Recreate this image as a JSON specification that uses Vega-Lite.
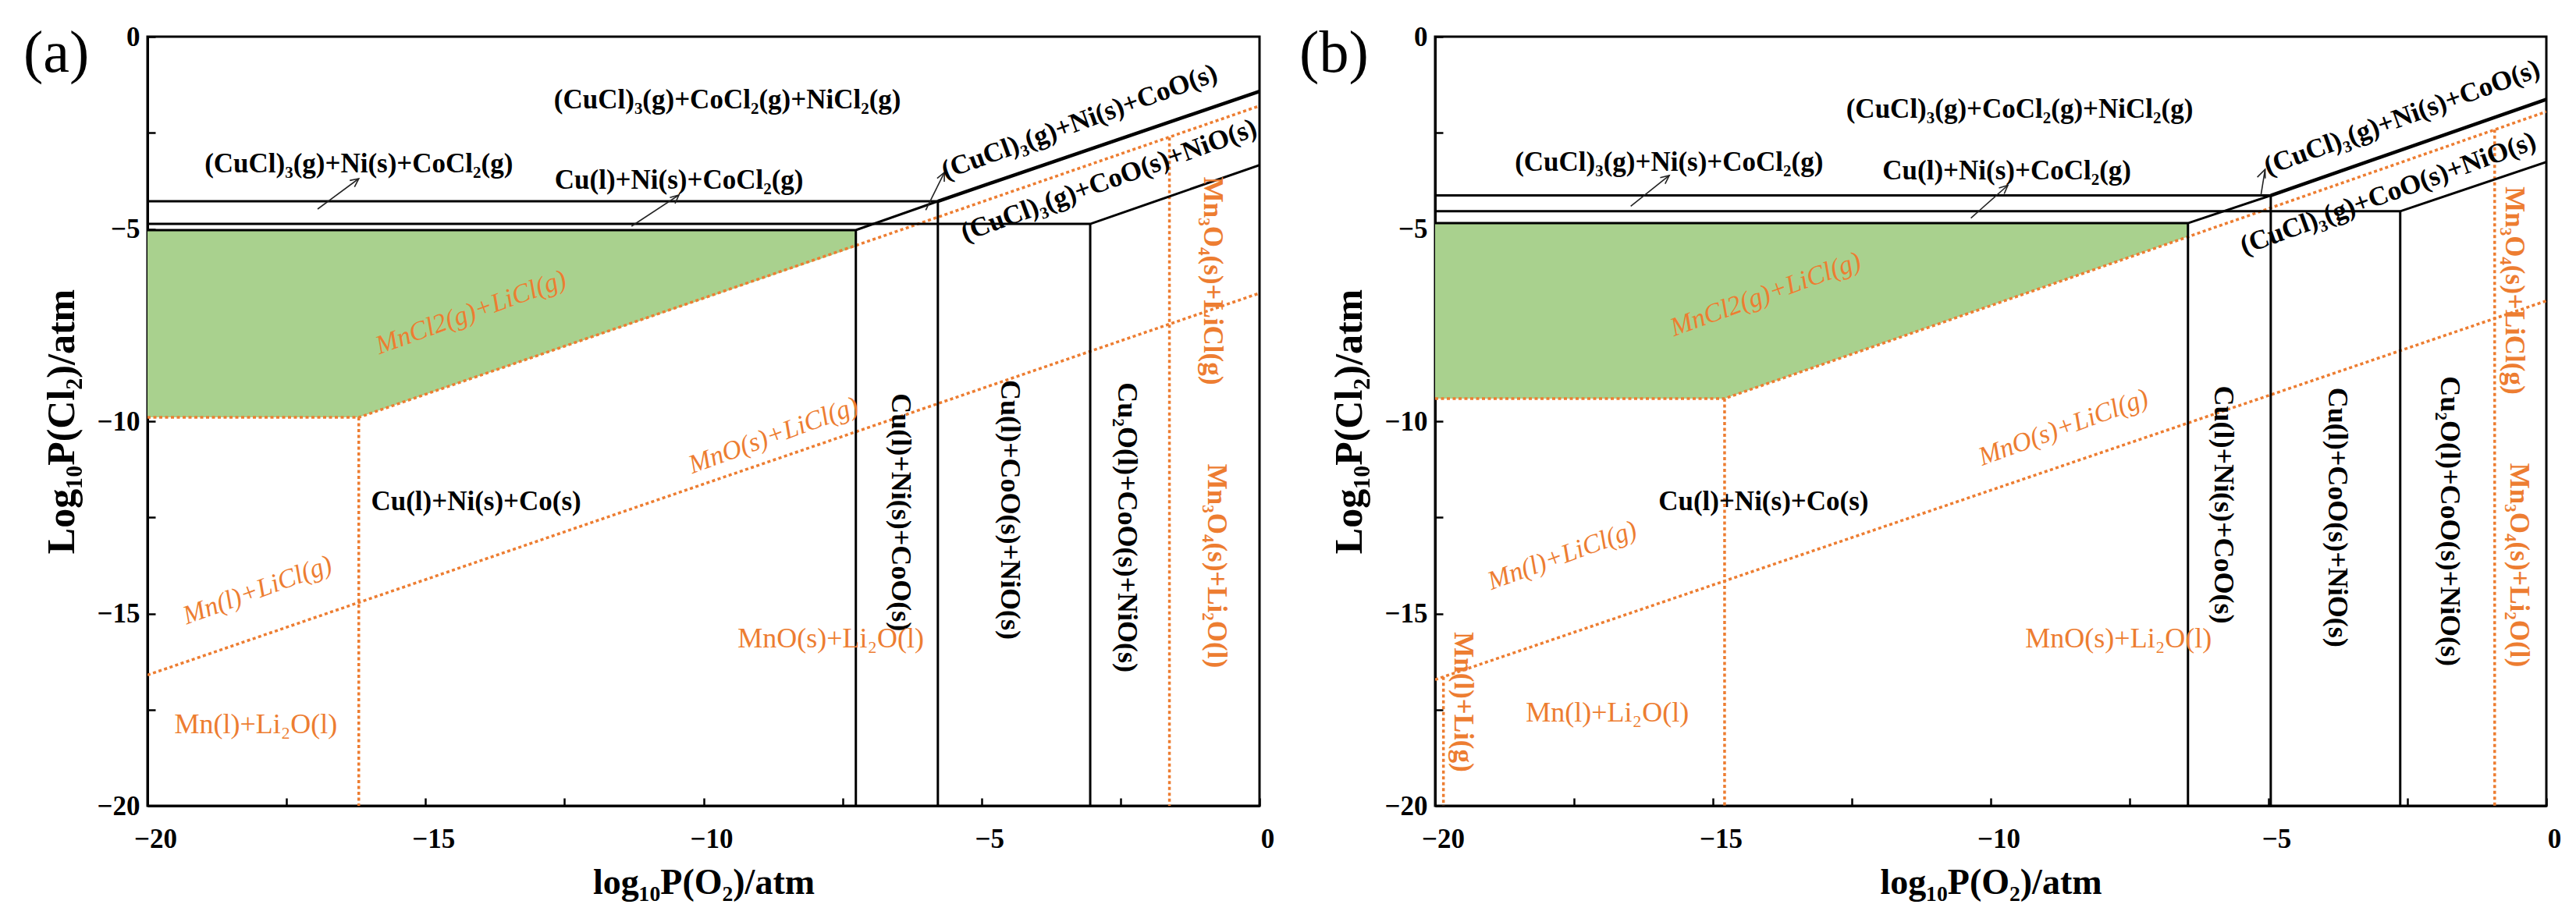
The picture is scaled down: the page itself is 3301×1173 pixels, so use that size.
{
  "$schema": "https://vega.github.io/schema/vega-lite/v6.json",
  "background": "white",
  "padding": {"left": 28, "top": 28, "right": 30, "bottom": 10},
  "spacing": 28,
  "config": {
    "view": {"stroke": "black", "strokeWidth": 3},
    "font": "Liberation Serif",
    "axis": {
      "grid": false, "domainColor": "black", "domainWidth": 3,
      "tickColor": "black", "tickWidth": 2.5, "tickSize": -10,
      "labelFont": "Liberation Serif", "labelFontSize": 35, "labelFontWeight": "bold", "labelColor": "black",
      "titleFont": "Liberation Serif", "titleFontSize": 46, "titleFontWeight": "bold", "titleColor": "black",
      "labelOverlap": false, "labelFlush": false
    }
  },
  "datasets": {
    "blk": [
      {"panel": "a", "id": "a1", "i": 0, "x": -20, "y": -4.28}, {"panel": "a", "id": "a1", "i": 1, "x": -5.785, "y": -4.28},
      {"panel": "a", "id": "a2", "i": 0, "x": -20, "y": -4.87}, {"panel": "a", "id": "a2", "i": 1, "x": -3.045, "y": -4.87}, {"panel": "a", "id": "a2", "i": 2, "x": 0, "y": -3.34},
      {"panel": "a", "id": "a3", "i": 0, "x": -20, "y": -5.03}, {"panel": "a", "id": "a3", "i": 1, "x": -7.26, "y": -5.03}, {"panel": "a", "id": "a3", "i": 2, "x": -5.785, "y": -4.28},
      {"panel": "a", "id": "a4", "i": 0, "x": -7.26, "y": -5.03}, {"panel": "a", "id": "a4", "i": 1, "x": -7.26, "y": -20},
      {"panel": "a", "id": "a5", "i": 0, "x": -5.785, "y": -4.28}, {"panel": "a", "id": "a5", "i": 1, "x": -5.785, "y": -20},
      {"panel": "a", "id": "a6", "i": 0, "x": -3.045, "y": -4.87}, {"panel": "a", "id": "a6", "i": 1, "x": -3.045, "y": -20},
      {"panel": "b", "id": "b1", "i": 0, "x": -20, "y": -4.13}, {"panel": "b", "id": "b1", "i": 1, "x": -4.96, "y": -4.13},
      {"panel": "b", "id": "b2", "i": 0, "x": -20, "y": -4.54}, {"panel": "b", "id": "b2", "i": 1, "x": -2.63, "y": -4.54}, {"panel": "b", "id": "b2", "i": 2, "x": 0, "y": -3.26},
      {"panel": "b", "id": "b3", "i": 0, "x": -20, "y": -4.85}, {"panel": "b", "id": "b3", "i": 1, "x": -6.45, "y": -4.85}, {"panel": "b", "id": "b3", "i": 2, "x": -4.96, "y": -4.13},
      {"panel": "b", "id": "b4", "i": 0, "x": -6.45, "y": -4.85}, {"panel": "b", "id": "b4", "i": 1, "x": -6.45, "y": -20},
      {"panel": "b", "id": "b5", "i": 0, "x": -4.96, "y": -4.13}, {"panel": "b", "id": "b5", "i": 1, "x": -4.96, "y": -20},
      {"panel": "b", "id": "b6", "i": 0, "x": -2.63, "y": -4.54}, {"panel": "b", "id": "b6", "i": 1, "x": -2.63, "y": -20}
    ],
    "thick": [
      {"panel": "a", "id": "t1", "i": 0, "x": -5.785, "y": -4.28}, {"panel": "a", "id": "t1", "i": 1, "x": 0, "y": -1.42},
      {"panel": "b", "id": "t1", "i": 0, "x": -4.96, "y": -4.13}, {"panel": "b", "id": "t1", "i": 1, "x": 0, "y": -1.63}
    ],
    "org": [
      {"panel": "a", "id": "o1", "i": 0, "x": -20, "y": -9.9}, {"panel": "a", "id": "o1", "i": 1, "x": -16.2, "y": -9.9}, {"panel": "a", "id": "o1", "i": 2, "x": 0, "y": -1.8},
      {"panel": "a", "id": "o2", "i": 0, "x": -16.2, "y": -9.9}, {"panel": "a", "id": "o2", "i": 1, "x": -16.2, "y": -20},
      {"panel": "a", "id": "o3", "i": 0, "x": -20, "y": -16.6}, {"panel": "a", "id": "o3", "i": 1, "x": 0, "y": -6.67},
      {"panel": "a", "id": "o4", "i": 0, "x": -1.62, "y": -2.62}, {"panel": "a", "id": "o4", "i": 1, "x": -1.62, "y": -20},
      {"panel": "b", "id": "o1", "i": 0, "x": -20, "y": -9.41}, {"panel": "b", "id": "o1", "i": 1, "x": -14.79, "y": -9.41}, {"panel": "b", "id": "o1", "i": 2, "x": 0, "y": -1.95},
      {"panel": "b", "id": "o2", "i": 0, "x": -14.79, "y": -9.41}, {"panel": "b", "id": "o2", "i": 1, "x": -14.79, "y": -20},
      {"panel": "b", "id": "o3", "i": 0, "x": -20, "y": -16.72}, {"panel": "b", "id": "o3", "i": 1, "x": 0, "y": -6.87},
      {"panel": "b", "id": "o4", "i": 0, "x": -19.85, "y": -16.65}, {"panel": "b", "id": "o4", "i": 1, "x": -19.85, "y": -20},
      {"panel": "b", "id": "o5", "i": 0, "x": -0.93, "y": -2.42}, {"panel": "b", "id": "o5", "i": 1, "x": -0.93, "y": -20}
    ],
    "green": [
      {"panel": "a", "x": -20, "y": -9.9, "yt": -5.03}, {"panel": "a", "x": -16.2, "y": -9.9, "yt": -5.03}, {"panel": "a", "x": -7.26, "y": -5.46, "yt": -5.03},
      {"panel": "b", "x": -20, "y": -9.41, "yt": -4.87}, {"panel": "b", "x": -14.79, "y": -9.41, "yt": -4.87}, {"panel": "b", "x": -6.45, "y": -5.2, "yt": -4.87}
    ],
    "arrows": [
      {"panel": "a", "id": "s1", "i": 0, "x": -16.94, "y": -4.483}, {"panel": "a", "id": "s1", "i": 1, "x": -16.2, "y": -3.692},
      {"panel": "a", "id": "h1", "i": 0, "x": -16.362, "y": -3.74}, {"panel": "a", "id": "h1", "i": 1, "x": -16.2, "y": -3.692}, {"panel": "a", "id": "h1", "i": 2, "x": -16.277, "y": -3.905},
      {"panel": "a", "id": "s2", "i": 0, "x": -11.295, "y": -4.929}, {"panel": "a", "id": "s2", "i": 1, "x": -10.442, "y": -4.118},
      {"panel": "a", "id": "h2", "i": 0, "x": -10.605, "y": -4.183}, {"panel": "a", "id": "h2", "i": 1, "x": -10.442, "y": -4.118}, {"panel": "a", "id": "h2", "i": 2, "x": -10.512, "y": -4.339},
      {"panel": "a", "id": "s3", "i": 0, "x": -6.003, "y": -4.509}, {"panel": "a", "id": "s3", "i": 1, "x": -5.666, "y": -3.529},
      {"panel": "a", "id": "h3", "i": 0, "x": -5.798, "y": -3.682}, {"panel": "a", "id": "h3", "i": 1, "x": -5.666, "y": -3.529}, {"panel": "a", "id": "h3", "i": 2, "x": -5.67, "y": -3.773},
      {"panel": "b", "id": "s1", "i": 0, "x": -16.479, "y": -4.408}, {"panel": "b", "id": "s1", "i": 1, "x": -15.785, "y": -3.609},
      {"panel": "b", "id": "h1", "i": 0, "x": -15.949, "y": -3.665}, {"panel": "b", "id": "h1", "i": 1, "x": -15.785, "y": -3.609}, {"panel": "b", "id": "h1", "i": 2, "x": -15.86, "y": -3.828},
      {"panel": "b", "id": "s2", "i": 0, "x": -10.357, "y": -4.718}, {"panel": "b", "id": "s2", "i": 1, "x": -9.691, "y": -3.864},
      {"panel": "b", "id": "h2", "i": 0, "x": -9.853, "y": -3.933}, {"panel": "b", "id": "h2", "i": 1, "x": -9.691, "y": -3.864}, {"panel": "b", "id": "h2", "i": 2, "x": -9.758, "y": -4.087},
      {"panel": "b", "id": "s3", "i": 0, "x": -5.136, "y": -4.114}, {"panel": "b", "id": "s3", "i": 1, "x": -5.062, "y": -3.452},
      {"panel": "b", "id": "h3", "i": 0, "x": -5.202, "y": -3.653}, {"panel": "b", "id": "h3", "i": 1, "x": -5.062, "y": -3.452}, {"panel": "b", "id": "h3", "i": 2, "x": -5.06, "y": -3.688}
    ],
    "tags": [
      {"panel": "a", "text": "(a)", "x": -21.64, "y": -0.45},
      {"panel": "b", "text": "(b)", "x": -21.82, "y": -0.45}
    ],
    "labels": [
      {"panel": "a", "kind": "blk", "text": "(CuCl)₃(g)+CoCl₂(g)+NiCl₂(g)", "x": -9.57, "y": -1.64},
      {"panel": "a", "kind": "blk", "text": "(CuCl)₃(g)+Ni(s)+CoCl₂(g)", "x": -16.2, "y": -3.3},
      {"panel": "a", "kind": "blk", "text": "Cu(l)+Ni(s)+CoCl₂(g)", "x": -10.44, "y": -3.73},
      {"panel": "a", "kind": "blk", "text": "Cu(l)+Ni(s)+Co(s)", "x": -14.09, "y": -12.09},
      {"panel": "a", "kind": "blkrot", "text": "(CuCl)₃(g)+Ni(s)+CoO(s)", "x": -3.24, "y": -2.21},
      {"panel": "a", "kind": "blkrot", "text": "(CuCl)₃(g)+CoO(s)+NiO(s)", "x": -2.71, "y": -3.73},
      {"panel": "a", "kind": "blkvert", "text": "Cu(l)+Ni(s)+CoO(s)", "x": -6.46, "y": -12.37},
      {"panel": "a", "kind": "blkvert", "text": "Cu(l)+CoO(s)+NiO(s)", "x": -4.49, "y": -12.3},
      {"panel": "a", "kind": "blkvert", "text": "Cu₂O(l)+CoO(s)+NiO(s)", "x": -2.39, "y": -12.76},
      {"panel": "a", "kind": "orit", "text": "MnCl2(g)+LiCl(g)", "x": -14.18, "y": -7.18},
      {"panel": "a", "kind": "orit", "text": "MnO(s)+LiCl(g)", "x": -8.74, "y": -10.38},
      {"panel": "a", "kind": "orit", "text": "Mn(l)+LiCl(g)", "x": -18.02, "y": -14.4},
      {"panel": "a", "kind": "orup", "text": "MnO(s)+Li₂O(l)", "x": -7.71, "y": -15.66},
      {"panel": "a", "kind": "orup", "text": "Mn(l)+Li₂O(l)", "x": -18.05, "y": -17.9},
      {"panel": "a", "kind": "orvert", "text": "Mn₃O₄(s)+LiCl(g)", "x": -0.84, "y": -6.35},
      {"panel": "a", "kind": "orvert", "text": "Mn₃O₄(s)+Li₂O(l)", "x": -0.77, "y": -13.76},
      {"panel": "b", "kind": "blk", "text": "(CuCl)₃(g)+CoCl₂(g)+NiCl₂(g)", "x": -9.48, "y": -1.88},
      {"panel": "b", "kind": "blk", "text": "(CuCl)₃(g)+Ni(s)+CoCl₂(g)", "x": -15.79, "y": -3.26},
      {"panel": "b", "kind": "blk", "text": "Cu(l)+Ni(s)+CoCl₂(g)", "x": -9.71, "y": -3.49},
      {"panel": "b", "kind": "blk", "text": "Cu(l)+Ni(s)+Co(s)", "x": -14.09, "y": -12.09},
      {"panel": "b", "kind": "blkrot", "text": "(CuCl)₃(g)+Ni(s)+CoO(s)", "x": -2.6, "y": -2.1},
      {"panel": "b", "kind": "blkrot", "text": "(CuCl)₃(g)+CoO(s)+NiO(s)", "x": -2.85, "y": -4.07},
      {"panel": "b", "kind": "blkvert", "text": "Cu(l)+Ni(s)+CoO(s)", "x": -5.81, "y": -12.17},
      {"panel": "b", "kind": "blkvert", "text": "Cu(l)+CoO(s)+NiO(s)", "x": -3.77, "y": -12.5},
      {"panel": "b", "kind": "blkvert", "text": "Cu₂O(l)+CoO(s)+NiO(s)", "x": -1.74, "y": -12.6},
      {"panel": "b", "kind": "orit", "text": "MnCl2(g)+LiCl(g)", "x": -14.05, "y": -6.71},
      {"panel": "b", "kind": "orit", "text": "MnO(s)+LiCl(g)", "x": -8.69, "y": -10.17},
      {"panel": "b", "kind": "orit", "text": "Mn(l)+LiCl(g)", "x": -17.71, "y": -13.5},
      {"panel": "b", "kind": "orup", "text": "MnO(s)+Li₂O(l)", "x": -7.7, "y": -15.66},
      {"panel": "b", "kind": "orup", "text": "Mn(l)+Li₂O(l)", "x": -16.9, "y": -17.59},
      {"panel": "b", "kind": "orvert", "text": "Mn₃O₄(s)+LiCl(g)", "x": -0.57, "y": -6.6},
      {"panel": "b", "kind": "orvert", "text": "Mn₃O₄(s)+Li₂O(l)", "x": -0.49, "y": -13.74},
      {"panel": "b", "kind": "orvert", "text": "Mn(l)+Li(g)", "x": -19.5, "y": -17.3}
    ]
  },
  "hconcat": [
    {
      "width": 1425, "height": 986,
      "encoding": {
        "x": {"field": "x", "type": "quantitative", "scale": {"domain": [-20, 0], "nice": false, "zero": false},
              "axis": {"title": "log₁₀P(O₂)/atm", "values": [-20, -17.5, -15, -12.5, -10, -7.5, -5, -2.5, 0], "labelExpr": "datum.value % 5 == 0 ? datum.label : ''", "labelPadding": 35, "labelOffset": 10, "titlePadding": 16}},
        "y": {"field": "y", "type": "quantitative", "scale": {"domain": [-20, 0], "nice": false, "zero": false},
              "axis": {"title": "Log₁₀P(Cl₂)/atm", "titleFontSize": 50, "values": [-20, -17.5, -15, -12.5, -10, -7.5, -5, -2.5, 0], "labelExpr": "datum.value % 5 == 0 ? datum.label : ''", "labelPadding": 20, "titlePadding": 20}}
      },
      "layer": [
        {"data": {"name": "green"}, "transform": [{"filter": "datum.panel == 'a'"}], "mark": {"type": "area", "color": "#A9D18E", "opacity": 1}, "encoding": {"y2": {"field": "yt"}}},
        {"data": {"name": "org"}, "transform": [{"filter": "datum.panel == 'a'"}], "mark": {"type": "line", "color": "#ED7D31", "strokeWidth": 3.5, "strokeDash": [4, 3.5], "clip": true}, "encoding": {"detail": {"field": "id"}, "order": {"field": "i"}}},
        {"data": {"name": "blk"}, "transform": [{"filter": "datum.panel == 'a'"}], "mark": {"type": "line", "color": "black", "strokeWidth": 3, "clip": true}, "encoding": {"detail": {"field": "id"}, "order": {"field": "i"}}},
        {"data": {"name": "thick"}, "transform": [{"filter": "datum.panel == 'a'"}], "mark": {"type": "line", "color": "black", "strokeWidth": 4.5, "clip": true}, "encoding": {"detail": {"field": "id"}, "order": {"field": "i"}}},
        {"data": {"name": "arrows"}, "transform": [{"filter": "datum.panel == 'a'"}], "mark": {"type": "line", "color": "#222", "strokeWidth": 1.6}, "encoding": {"detail": {"field": "id"}, "order": {"field": "i"}}},
        {"data": {"name": "tags"}, "transform": [{"filter": "datum.panel == 'a'"}], "mark": {"type": "text", "font": "Liberation Serif", "fontSize": 76, "color": "black", "baseline": "middle", "clip": false}, "encoding": {"text": {"field": "text"}}},
        {"data": {"name": "labels"}, "transform": [{"filter": "datum.panel == 'a' && datum.kind == 'blk'"}], "mark": {"type": "text", "font": "Liberation Serif", "fontSize": 35, "fontWeight": "bold", "color": "black", "baseline": "middle"}, "encoding": {"text": {"field": "text"}}},
        {"data": {"name": "labels"}, "transform": [{"filter": "datum.panel == 'a' && datum.kind == 'blkrot'"}], "mark": {"type": "text", "font": "Liberation Serif", "fontSize": 35, "fontWeight": "bold", "color": "black", "baseline": "middle", "angle": 340}, "encoding": {"text": {"field": "text"}}},
        {"data": {"name": "labels"}, "transform": [{"filter": "datum.panel == 'a' && datum.kind == 'blkvert'"}], "mark": {"type": "text", "font": "Liberation Serif", "fontSize": 36, "fontWeight": "bold", "color": "black", "baseline": "middle", "angle": 90}, "encoding": {"text": {"field": "text"}}},
        {"data": {"name": "labels"}, "transform": [{"filter": "datum.panel == 'a' && datum.kind == 'orit'"}], "mark": {"type": "text", "font": "Liberation Serif", "fontSize": 34, "fontStyle": "italic", "color": "#ED7D31", "baseline": "middle", "angle": 340}, "encoding": {"text": {"field": "text"}}},
        {"data": {"name": "labels"}, "transform": [{"filter": "datum.panel == 'a' && datum.kind == 'orup'"}], "mark": {"type": "text", "font": "Liberation Serif", "fontSize": 36, "color": "#ED7D31", "baseline": "middle"}, "encoding": {"text": {"field": "text"}}},
        {"data": {"name": "labels"}, "transform": [{"filter": "datum.panel == 'a' && datum.kind == 'orvert'"}], "mark": {"type": "text", "font": "Liberation Serif", "fontSize": 35, "fontWeight": "bold", "color": "#ED7D31", "baseline": "middle", "angle": 90}, "encoding": {"text": {"field": "text"}}}
      ]
    },
    {
      "width": 1424, "height": 986,
      "encoding": {
        "x": {"field": "x", "type": "quantitative", "scale": {"domain": [-20, 0], "nice": false, "zero": false},
              "axis": {"title": "log₁₀P(O₂)/atm", "values": [-20, -17.5, -15, -12.5, -10, -7.5, -5, -2.5, 0], "labelExpr": "datum.value % 5 == 0 ? datum.label : ''", "labelPadding": 35, "labelOffset": 10, "titlePadding": 16}},
        "y": {"field": "y", "type": "quantitative", "scale": {"domain": [-20, 0], "nice": false, "zero": false},
              "axis": {"title": "Log₁₀P(Cl₂)/atm", "titleFontSize": 50, "values": [-20, -17.5, -15, -12.5, -10, -7.5, -5, -2.5, 0], "labelExpr": "datum.value % 5 == 0 ? datum.label : ''", "labelPadding": 20, "titlePadding": 20}}
      },
      "layer": [
        {"data": {"name": "green"}, "transform": [{"filter": "datum.panel == 'b'"}], "mark": {"type": "area", "color": "#A9D18E", "opacity": 1}, "encoding": {"y2": {"field": "yt"}}},
        {"data": {"name": "org"}, "transform": [{"filter": "datum.panel == 'b'"}], "mark": {"type": "line", "color": "#ED7D31", "strokeWidth": 3.5, "strokeDash": [4, 3.5], "clip": true}, "encoding": {"detail": {"field": "id"}, "order": {"field": "i"}}},
        {"data": {"name": "blk"}, "transform": [{"filter": "datum.panel == 'b'"}], "mark": {"type": "line", "color": "black", "strokeWidth": 3, "clip": true}, "encoding": {"detail": {"field": "id"}, "order": {"field": "i"}}},
        {"data": {"name": "thick"}, "transform": [{"filter": "datum.panel == 'b'"}], "mark": {"type": "line", "color": "black", "strokeWidth": 4.5, "clip": true}, "encoding": {"detail": {"field": "id"}, "order": {"field": "i"}}},
        {"data": {"name": "arrows"}, "transform": [{"filter": "datum.panel == 'b'"}], "mark": {"type": "line", "color": "#222", "strokeWidth": 1.6}, "encoding": {"detail": {"field": "id"}, "order": {"field": "i"}}},
        {"data": {"name": "tags"}, "transform": [{"filter": "datum.panel == 'b'"}], "mark": {"type": "text", "font": "Liberation Serif", "fontSize": 76, "color": "black", "baseline": "middle", "clip": false}, "encoding": {"text": {"field": "text"}}},
        {"data": {"name": "labels"}, "transform": [{"filter": "datum.panel == 'b' && datum.kind == 'blk'"}], "mark": {"type": "text", "font": "Liberation Serif", "fontSize": 35, "fontWeight": "bold", "color": "black", "baseline": "middle"}, "encoding": {"text": {"field": "text"}}},
        {"data": {"name": "labels"}, "transform": [{"filter": "datum.panel == 'b' && datum.kind == 'blkrot'"}], "mark": {"type": "text", "font": "Liberation Serif", "fontSize": 35, "fontWeight": "bold", "color": "black", "baseline": "middle", "angle": 340}, "encoding": {"text": {"field": "text"}}},
        {"data": {"name": "labels"}, "transform": [{"filter": "datum.panel == 'b' && datum.kind == 'blkvert'"}], "mark": {"type": "text", "font": "Liberation Serif", "fontSize": 36, "fontWeight": "bold", "color": "black", "baseline": "middle", "angle": 90}, "encoding": {"text": {"field": "text"}}},
        {"data": {"name": "labels"}, "transform": [{"filter": "datum.panel == 'b' && datum.kind == 'orit'"}], "mark": {"type": "text", "font": "Liberation Serif", "fontSize": 34, "fontStyle": "italic", "color": "#ED7D31", "baseline": "middle", "angle": 340}, "encoding": {"text": {"field": "text"}}},
        {"data": {"name": "labels"}, "transform": [{"filter": "datum.panel == 'b' && datum.kind == 'orup'"}], "mark": {"type": "text", "font": "Liberation Serif", "fontSize": 36, "color": "#ED7D31", "baseline": "middle"}, "encoding": {"text": {"field": "text"}}},
        {"data": {"name": "labels"}, "transform": [{"filter": "datum.panel == 'b' && datum.kind == 'orvert'"}], "mark": {"type": "text", "font": "Liberation Serif", "fontSize": 35, "fontWeight": "bold", "color": "#ED7D31", "baseline": "middle", "angle": 90}, "encoding": {"text": {"field": "text"}}}
      ]
    }
  ]
}
